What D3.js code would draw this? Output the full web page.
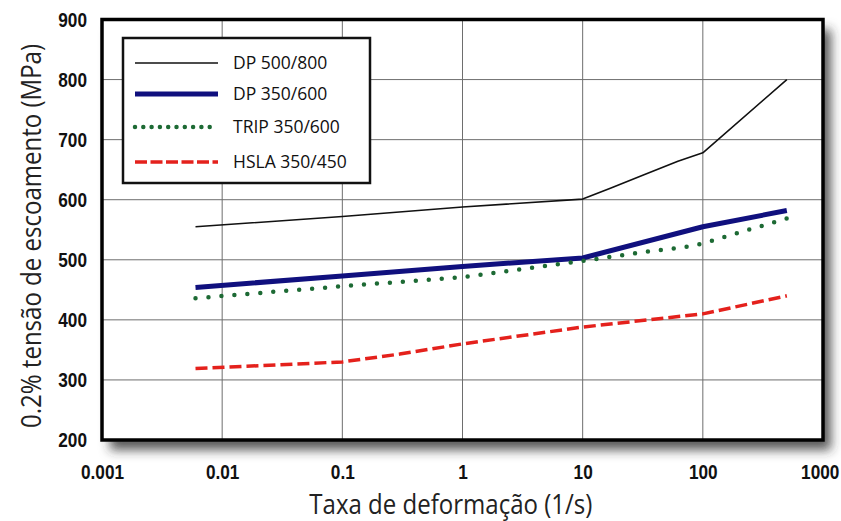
<!DOCTYPE html>
<html>
<head>
<meta charset="utf-8">
<script src="https://cdn.jsdelivr.net/npm/d3@7"></script>
<style>
  body { margin: 0; background: #fff; }
  .tick-label { font-family: "Liberation Sans", Arial, sans-serif; font-weight: bold; font-size: 21px; fill: #111; }
  .axis-title { font-family: "Open Sans", sans-serif; font-size: 27px; fill: #222; }
  .legend-text { font-family: "Open Sans", sans-serif; font-size: 17.5px; fill: #111; }
</style>
</head>
<body>
<div id="chart"></div>
<script>
// values (strain rate in 1/s, yield stress in MPa)
var dp800Rate   = [0.006, 0.1, 1, 10, 17, 32, 62, 100, 500];
var dp800Stress = [555, 572, 588, 601, 619, 641, 664, 678, 800];

var dp600Rate   = [0.006, 0.1, 1, 10, 100, 500];
var dp600Stress = [454, 473, 489, 503, 555, 582];

var tripRate    = [0.006, 0.1, 1, 10, 30, 70, 100, 500];
var tripStress  = [436, 456, 471, 498, 512, 521, 527, 569];

var hslaRate    = [0.006, 0.1, 0.3, 1, 10, 100, 500];
var hslaStress  = [319, 330, 343, 360, 388, 410, 440];

var seriesNames = ["DP 500/800", "DP 350/600", "TRIP 350/600", "HSLA 350/450"];
var xTicks = [0.001, 0.01, 0.1, 1, 10, 100, 1000];
var xTickLabels = ["0.001", "0.01", "0.1", "1", "10", "100", "1000"];
var yTicks = [200, 300, 400, 500, 600, 700, 800, 900];

var width = 841, height = 521;
var margin = {top: 19.5, right: 18, bottom: 81, left: 102};
var plotW = width - margin.left - margin.right;
var plotH = height - margin.top - margin.bottom;
var squeeze = 0.82;      // tick labels in the picture are narrow
var titleSqueeze = 0.89; // so are the axis titles

var svg = d3.select("#chart").append("svg")
  .attr("width", width).attr("height", height);

var defs = svg.append("defs");
var shadow = defs.append("filter").attr("id", "shadow")
  .attr("x", "-5%").attr("y", "-5%").attr("width", "120%").attr("height", "130%");
shadow.append("feDropShadow")
  .attr("dx", 8).attr("dy", 10).attr("stdDeviation", 5.5)
  .attr("flood-color", "#333").attr("flood-opacity", 0.8);

var g = svg.append("g")
  .attr("transform", "translate(" + margin.left + "," + margin.top + ")");

var x = d3.scaleLog().domain([0.001, 1000]).range([0, plotW]);
var y = d3.scaleLinear().domain([200, 900]).range([plotH, 0]);

// white panel with drop shadow
g.append("rect")
  .attr("width", plotW).attr("height", plotH)
  .attr("fill", "#fff")
  .attr("filter", "url(#shadow)");

// grid
g.append("g").selectAll("line").data(xTicks.slice(1, -1)).join("line")
  .attr("x1", function(d) { return x(d); }).attr("x2", function(d) { return x(d); })
  .attr("y1", 0).attr("y2", plotH)
  .attr("stroke", "#6e6e6e").attr("stroke-width", 1);
g.append("g").selectAll("line").data(yTicks.slice(1, -1)).join("line")
  .attr("y1", function(d) { return y(d); }).attr("y2", function(d) { return y(d); })
  .attr("x1", 0).attr("x2", plotW)
  .attr("stroke", "#6e6e6e").attr("stroke-width", 1);

// tick labels via axes, with the tick marks hidden
var xAxis = g.append("g")
  .attr("transform", "translate(0," + plotH + ")")
  .call(d3.axisBottom(x).tickValues(xTicks)
    .tickFormat(function(d, i) { return xTickLabels[i]; })
    .tickSize(0).tickPadding(24));
var yAxis = g.append("g")
  .call(d3.axisLeft(y).tickValues(yTicks).tickSize(0).tickPadding(15));
[xAxis, yAxis].forEach(function(a) {
  a.select(".domain").remove();
  a.selectAll("text").attr("class", "tick-label")
    .attr("font-size", null).attr("font-family", null)
    .attr("transform", "scale(" + squeeze + ",1)");
});
yAxis.selectAll("text").attr("x", -15 / squeeze);
xAxis.selectAll("text").filter(function(d) { return d === 1000; }).attr("dx", -4);

// series
var line = d3.line()
  .x(function(d) { return x(d[0]); })
  .y(function(d) { return y(d[1]); });

var series = [
  {rate: dp800Rate, stress: dp800Stress, color: "#111", width: 1.6, dash: null, cap: "butt"},
  {rate: dp600Rate, stress: dp600Stress, color: "#10107e", width: 5, dash: null, cap: "butt"},
  {rate: tripRate, stress: tripStress, color: "#1d6a34", width: 4.5, dash: "0,13", cap: "round"},
  {rate: hslaRate, stress: hslaStress, color: "#e4211c", width: 3.5, dash: "12,5", cap: "butt"}
];

series.forEach(function(s) {
  g.append("path")
    .datum(d3.zip(s.rate, s.stress))
    .attr("d", line)
    .attr("fill", "none")
    .attr("stroke", s.color)
    .attr("stroke-width", s.width)
    .attr("stroke-dasharray", s.dash)
    .attr("stroke-linecap", s.cap)
    .attr("stroke-linejoin", "round");
});

// frame
g.append("rect")
  .attr("width", plotW).attr("height", plotH)
  .attr("fill", "none").attr("stroke", "#000").attr("stroke-width", 3.5);

// legend
var legend = svg.append("g").attr("transform", "translate(123,38)");
legend.append("rect")
  .attr("width", 247).attr("height", 145)
  .attr("fill", "#fff").attr("stroke", "#111").attr("stroke-width", 2.5);
var legendDash = ["", "", "0,8.3", "12,3.5"];
var rows = legend.selectAll("g.row").data(series).join("g")
  .attr("class", "row")
  .attr("transform", function(d, i) { return "translate(0," + [25, 56, 89, 124][i] + ")"; });
rows.append("line")
  .attr("x1", 12).attr("x2", 95)
  .attr("stroke", function(d) { return d.color; })
  .attr("stroke-width", function(d) { return d.width; })
  .attr("stroke-linecap", function(d) { return d.cap; })
  .attr("stroke-dasharray", function(d, i) { return legendDash[i] || null; });
rows.append("text")
  .attr("class", "legend-text")
  .attr("x", 110).attr("dy", "0.36em")
  .text(function(d, i) { return seriesNames[i]; });

// axis titles
svg.append("text").attr("class", "axis-title")
  .attr("transform", "translate(" + (margin.left + x(0.8)) + ",514) scale(" + titleSqueeze + ",1)")
  .attr("text-anchor", "middle")
  .text("Taxa de deformação (1/s)");
svg.append("text").attr("class", "axis-title")
  .attr("transform", "translate(41,236) rotate(-90) scale(" + titleSqueeze + ",1)")
  .attr("text-anchor", "middle")
  .text("0.2% tensão de escoamento (MPa)");
</script>
</body>
</html>
